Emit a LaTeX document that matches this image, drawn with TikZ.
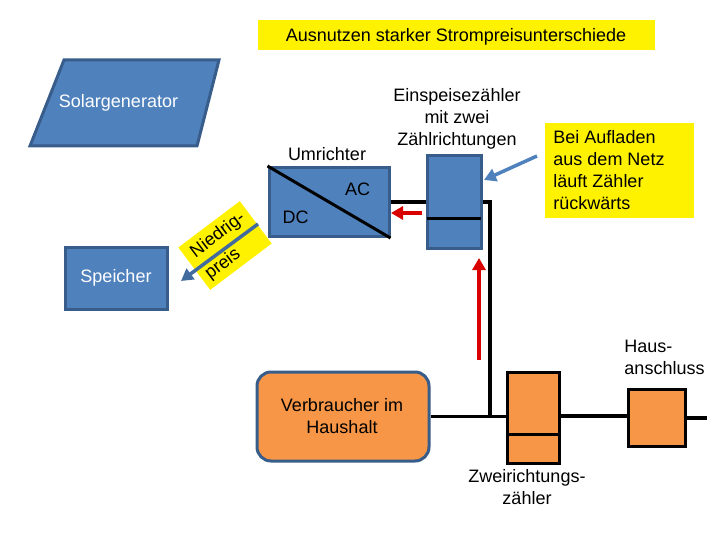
\documentclass[tikz,border=0pt]{standalone}
\usepackage{fontspec}
\setmainfont{Liberation Sans}
\usetikzlibrary{arrows, arrows.meta, positioning, calc}
\definecolor{fillblue}{HTML}{4F81BD}
\definecolor{edgeblue}{HTML}{385D8A}
\definecolor{fillorange}{HTML}{F79646}

\begin{document}
\begin{tikzpicture}[
    x=1pt, y=-1pt,
    font=\fontsize{18}{22}\selectfont,
    label/.style={align=center, inner sep=0pt},
    bluebox/.style={rectangle, draw=edgeblue, fill=fillblue, line width=3pt, inner sep=0pt},
    orangebox/.style={rectangle, draw=black, fill=fillorange, line width=3pt, inner sep=0pt},
    notebox/.style={rectangle, fill=yellow, align=center, inner sep=0pt},
    wire/.style={line width=3.5pt, black},
    divider/.style={line width=3pt, black},
    arrow/.style={-{Triangle[length=12pt, width=13pt]}, line width=3.5pt},
    redarrow/.style={arrow, red!85!black},
    bluearrow/.style={arrow, fillblue}
]
    \useasboundingbox (0,0) rectangle (720,540);

    \node[notebox, minimum width=397pt, minimum height=30pt] (title) at (456.5,35) {};
    \node[label] (titletext) at (456,36.5) {Ausnutzen starker Strompreisunterschiede};

    % Solargenerator
    \draw[bluebox] (64,60) -- (219,60) -- (197,146) -- (30,146) -- cycle;
    \node[label, text=white] (solar) at (118.5,103) {Solargenerator};

    % Umrichter
    \node[label] (umrichter) at (327,154) {Umrichter};
    \node[bluebox, minimum width=120pt, minimum height=69pt] (inverter) at (329,202) {};
    \draw[line width=3pt, black] (inverter.north west) -- (inverter.south east);
    \node[label] (ac) at (357.5,189) {AC};
    \node[label] (dc) at (295.5,217) {DC};

    % Speicher
    \node[bluebox, minimum width=102pt, minimum height=62pt, text=white] (speicher) at (116,278) {Speicher};
    \node[notebox, rotate=37, minimum width=77pt, minimum height=53pt] (preis) at (225,245.5) {};
    \node[label, rotate=37] (nied) at (218,235.5) {Niedrig-};
    \node[label, rotate=37] (preistext) at (223,264.5) {preis};
    \coordinate (speicherin) at (181,281);
    \coordinate (dcout) at (258,224);
    \draw[bluearrow, edgeblue!60!fillblue] (dcout) -- (speicherin);

    % Einspeisezaehler
    \node[label] (einlabel) at (457,119) {Einspeisezähler\\mit zwei\\Zählrichtungen};
    \node[bluebox, minimum width=54pt, minimum height=92pt] (feed) at (454,202) {};
    \coordinate (feedl) at (427,219);
    \coordinate (feedr) at (481,219);
    \draw[divider] (feedl) -- (feedr);

    % Hinweis
    \node[notebox, minimum width=149pt, minimum height=95pt] (hint) at (619.5,170.5) {};
    \node[label, align=left] (hinttext) at (609,170.5) {Bei Aufladen\\aus dem Netz\\läuft Zähler\\rückwärts};
    \coordinate (hintout) at (537,156);
    \coordinate (feedin) at (484,180);
    \draw[bluearrow] (hintout) -- (feedin);

    % Haushalt
    \node[rectangle, rounded corners=14pt, draw=edgeblue, fill=fillorange, line width=3pt, minimum width=172pt, minimum height=89pt, inner sep=0pt] (haushalt) at (343,416.5) {};
    \node[label] (haushalttext) at (342,416) {Verbraucher im\\Haushalt};
    \node[orangebox, minimum width=52pt, minimum height=91pt] (zwei) at (533,417.5) {};
    \coordinate (zweil) at (507,434);
    \coordinate (zweir) at (559,434);
    \draw[divider] (zweil) -- (zweir);
    \node[orangebox, minimum width=57pt, minimum height=57pt] (haus) at (656.5,417.5) {};
    \node[label, align=left] (hauslabel) at (664.5,357.5) {Haus-\\anschluss};
    \node[label] (zweilabel) at (527,487) {Zweirichtungs-\\zähler};

    % Leitungen
    \coordinate (junction) at (490,416);
    \coordinate (netz) at (707,418);
    \draw[wire] (inverter.east) -- (feed.west);
    \draw[wire] (feed.east) -| (junction);
    \draw[wire] (haushalt.east) -- (zwei.west |- haushalt.east);
    \draw[wire] (zwei.east |- junction) -- (haus.west |- junction);
    \draw[wire] (haus.east |- netz) -- (netz);

    % Stromrichtung
    \coordinate (flowa) at (422,213);
    \coordinate (flowb) at (391,213);
    \coordinate (flowc) at (479,360);
    \coordinate (flowd) at (479,258);
    \draw[redarrow] (flowa) -- (flowb);
    \draw[redarrow] (flowc) -- (flowd);
\end{tikzpicture}
\end{document}
